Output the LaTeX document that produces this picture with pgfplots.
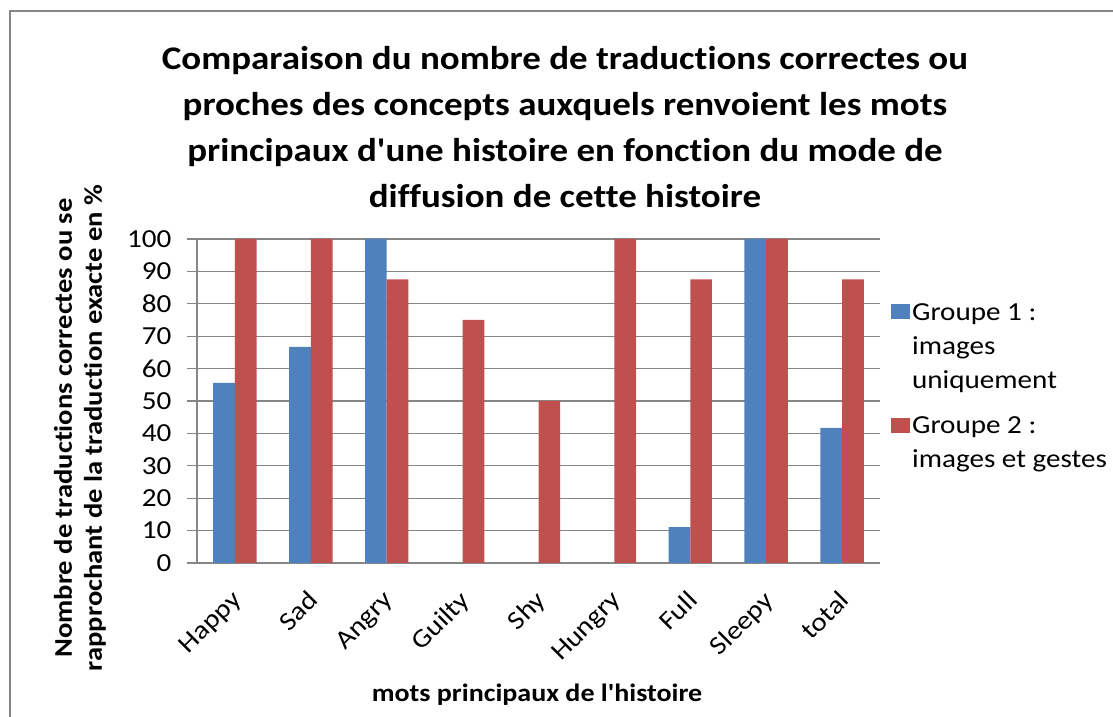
\documentclass[border=0pt]{standalone}
\usepackage{pgfplots}
\pgfplotsset{compat=1.18}
\usepackage{fontspec}
\setmainfont{Carlito}[FakeStretch=1.12, Ligatures={TeXOff,CommonOff}]
\definecolor{bblue}{RGB}{79,129,189}
\definecolor{bred}{RGB}{192,80,77}
\definecolor{gridgray}{RGB}{134,134,134}
\begin{document}
\begin{tikzpicture}[x=1pt,y=1pt]
\useasboundingbox (0,0) rectangle (1113,717);
\fill[white] (0,0) rectangle (1113,717);
\draw[gridgray, line width=2.5pt] (10,-5) -- (10,706) -- (1120,706);
\begin{axis}[
  at={(197pt,154pt)}, anchor=south west,
  scale only axis, width=683pt, height=324pt,
  xmin=-0.5, xmax=8.5, ymin=0, ymax=100,
  ybar=0pt, bar width=21.7pt,
  xtick=data,
  xticklabels={Happy,Sad,Angry,Guilty,Shy,Hungry,Full,Sleepy,total},
  ytick={0,10,...,100},
  axis x line*=bottom, axis y line*=left,
  ymajorgrids,
  grid style={gridgray, line width=1.3pt},
  axis line style={gridgray, line width=1.3pt, -},
  tick align=outside, major tick length=10pt,
  ytick style={gridgray, line width=1.3pt},
  xtick style={draw=none},
  /pgf/number format/assume math mode=true,
  tick label style={font=\fontsize{26}{30}\selectfont},
  xticklabel style={rotate=45, anchor=north east, xshift=-11pt, yshift=-5pt},
  yticklabel style={xshift=-12pt},
  legend style={at={(axis description cs:1.016,0.807)}, anchor=north west,
    draw=none, fill=none, font=\fontsize{26}{34}\selectfont,
    cells={align=left}, row sep=23pt, inner sep=0pt},
  legend cell align=left,
]
\addplot[fill=bblue, draw=none,
  legend image code/.code={\fill[bblue] (0pt,28pt) rectangle (19pt,43pt);}]
  coordinates {(0,55.6) (1,66.7) (2,100) (3,0) (4,0) (5,0) (6,11.1) (7,100) (8,41.7)};
\addlegendentry{Groupe 1 :\\images\\uniquement}
\addplot[fill=bred, draw=none,
  legend image code/.code={\fill[bred] (0pt,10pt) rectangle (19pt,25pt);}]
  coordinates {(0,100) (1,100) (2,87.5) (3,75) (4,50) (5,100) (6,87.5) (7,100) (8,87.5)};
\addlegendentry{Groupe 2 :\\images et gestes}
\end{axis}
\node[align=center, font=\bfseries\fontsize{33}{46}\selectfont, anchor=north]
  at (565,674) {Comparaison du nombre de traductions correctes ou\\proches des concepts auxquels renvoient les mots\\principaux d'une histoire en fonction du mode de\\diffusion de cette histoire};
\node[rotate=90, align=center, font=\bfseries\fontsize{25.5}{30}\selectfont]
  at (80,289) {Nombre de traductions correctes ou se\\rapprochant de la traduction exacte en \%};
\node[font=\bfseries\fontsize{25}{30}\selectfont] at (537,22) {mots principaux de l'histoire};
\end{tikzpicture}
\end{document}
